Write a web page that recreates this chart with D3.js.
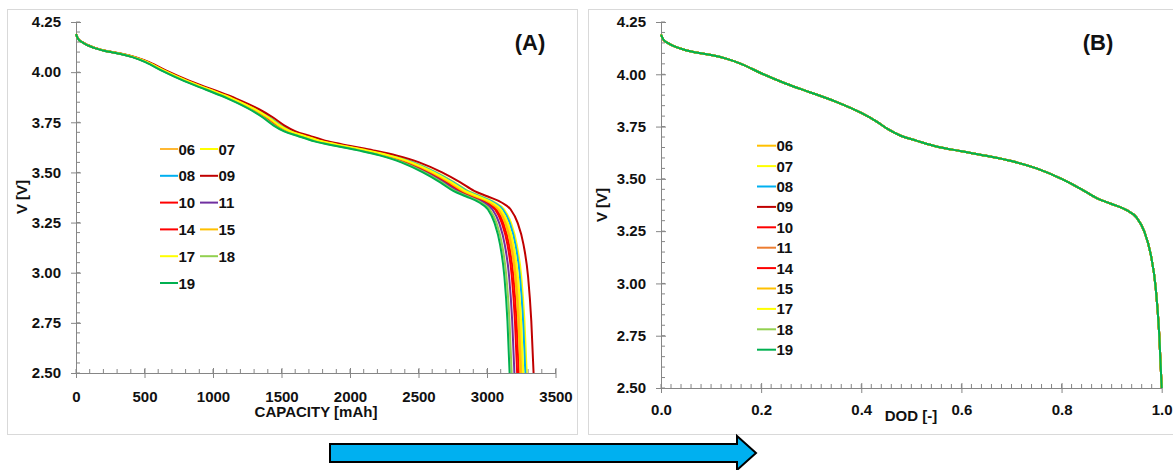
<!DOCTYPE html>
<html>
<head>
<meta charset="utf-8">
<script src="https://cdn.jsdelivr.net/npm/d3@7"></script>
<style>
  html, body { margin: 0; padding: 0; background: #fff; }
  svg { display: block; }
  text { font-family: "Liberation Sans", Arial, sans-serif; font-weight: bold; fill: #111; }
</style>
</head>
<body>
<svg id="chart" width="1173" height="470"></svg>
<script>
// ---------------- DATA ----------------
// cell identifiers (legend order)
const cells = ["06", "07", "08", "09", "10", "11", "14", "15", "17", "18", "19"];
// capacity at 2.50 V cut-off [mAh]
const capacities = [3255, 3290, 3280, 3340, 3220, 3200, 3232, 3245, 3265, 3180, 3165];
// line colours in panel (A)
const colorsA = ["#FFB833", "#FFFF00", "#00B0F0", "#C00000", "#FF0000", "#7030A0", "#FF0000", "#FFC000", "#FFFF00", "#92D050", "#00B050"];
// line colours in panel (B)
const colorsB = ["#FFC000", "#FFFF00", "#00B0F0", "#C00000", "#FF0000", "#ED7D31", "#FF0000", "#FFC000", "#FFFF00", "#92D050", "#00B050"];
// normalised discharge profile: depth of discharge and voltage
const dod = [0, 0.005, 0.015, 0.04, 0.07, 0.10, 0.13, 0.16, 0.20, 0.25, 0.30, 0.35, 0.40, 0.43, 0.455, 0.48, 0.51, 0.55, 0.60, 0.65, 0.70, 0.75, 0.80, 0.84, 0.87, 0.90, 0.93, 0.95, 0.965, 0.978, 0.988, 0.995, 1.0];
const volt = [4.19, 4.165, 4.148, 4.122, 4.104, 4.092, 4.075, 4.05, 4.005, 3.955, 3.912, 3.868, 3.815, 3.775, 3.735, 3.705, 3.683, 3.655, 3.632, 3.61, 3.585, 3.55, 3.50, 3.45, 3.408, 3.38, 3.35, 3.315, 3.25, 3.14, 2.98, 2.76, 2.50];
// axis ticks
const vTicks = [2.50, 2.75, 3.00, 3.25, 3.50, 3.75, 4.00, 4.25];
const capTicks = [0, 500, 1000, 1500, 2000, 2500, 3000, 3500];
const dodTicks = [0.0, 0.2, 0.4, 0.6, 0.8, 1.0];

// ---------------- DRAW ----------------
const svg = d3.select("#chart");
const axisColor = "#868686";

// panel frames
svg.append("rect").attr("x", 7.5).attr("y", 9.5).attr("width", 570).attr("height", 425)
  .attr("fill", "#fff").attr("stroke", "#d9d9d9");
svg.append("rect").attr("x", 588.5).attr("y", 9.5).attr("width", 600).attr("height", 425)
  .attr("fill", "#fff").attr("stroke", "#d9d9d9");

function drawPanel(opt) {
  const g = svg.append("g");
  const x = opt.x, y = opt.y;
  const clipId = "clip" + opt.id;
  svg.append("clipPath").attr("id", clipId).append("rect")
    .attr("x", x.range()[0] - 2).attr("y", y.range()[1] - 2)
    .attr("width", x.range()[1] - x.range()[0] + 4).attr("height", y.range()[0] - y.range()[1] + 4);

  // minor ticks on x (inside/up)
  g.append("g").selectAll("line").data(opt.xMinor).join("line")
    .attr("x1", d => x(d)).attr("x2", d => x(d))
    .attr("y1", y.range()[0]).attr("y2", y.range()[0] - 4)
    .attr("stroke", axisColor).attr("stroke-width", 1);
  // minor ticks on y (inside/right)
  g.append("g").selectAll("line").data(opt.yMinor).join("line")
    .attr("x1", x.range()[0]).attr("x2", x.range()[0] + 4)
    .attr("y1", d => y(d)).attr("y2", d => y(d))
    .attr("stroke", axisColor).attr("stroke-width", 1);

  // x axis
  const xa = g.append("g").attr("transform", `translate(0,${y.range()[0]})`)
    .call(d3.axisBottom(x).tickValues(opt.xTicks).tickFormat(opt.xFormat).tickSizeInner(5).tickSizeOuter(0).tickPadding(opt.xPad));
  xa.selectAll("line").attr("y1", -5);
  xa.selectAll("path, line").attr("stroke", axisColor);
  xa.selectAll("text").attr("font-size", 15).attr("font-family", null).attr("fill", "#111");

  // y axis
  const ya = g.append("g").attr("transform", `translate(${x.range()[0]},0)`)
    .call(d3.axisLeft(y).tickValues(vTicks).tickFormat(d3.format(".2f")).tickSizeInner(5).tickSizeOuter(0).tickPadding(10));
  ya.selectAll("line").attr("x1", 5);
  ya.selectAll("path, line").attr("stroke", axisColor);
  ya.selectAll("text").attr("font-size", 15).attr("font-family", null).attr("fill", "#111");

  // lines
  const lineG = g.append("g").attr("clip-path", `url(#${clipId})`);
  cells.forEach((c, i) => {
    const pts = dod.map((d, k) => [opt.xVal(d, i), volt[k]]);
    const line = d3.line().x(p => x(p[0])).y(p => y(p[1])).curve(d3.curveMonotoneX);
    lineG.append("path").datum(pts).attr("d", line)
      .attr("fill", "none").attr("stroke", opt.colors[i]).attr("stroke-width", 2)
      .attr("stroke-linejoin", "round");
  });

  // axis titles
  g.append("text").attr("x", opt.xTitlePos[0]).attr("y", opt.xTitlePos[1])
    .attr("text-anchor", "middle").attr("dominant-baseline", "central").attr("font-size", 15).text(opt.xTitle);
  g.append("text").attr("transform", `translate(${opt.yTitlePos[0]},${opt.yTitlePos[1]}) rotate(-90)`)
    .attr("text-anchor", "middle").attr("dominant-baseline", "central").attr("font-size", 15).text("V [V]");
  // panel label
  g.append("text").attr("x", opt.labelPos[0]).attr("y", opt.labelPos[1])
    .attr("text-anchor", "middle").attr("dominant-baseline", "central").attr("font-size", 22).text(opt.label);
  return g;
}

// Panel A
const xA = d3.scaleLinear().domain([0, 3500]).range([76, 555.5]);
const yA = d3.scaleLinear().domain([2.5, 4.25]).range([373, 22]);
const gA = drawPanel({
  id: "A", x: xA, y: yA,
  xTicks: capTicks, xFormat: d3.format("d"), xPad: 13,
  xMinor: d3.range(0, 3501, 100), yMinor: d3.range(2.5, 4.2501, 0.05),
  xVal: (d, i) => d * capacities[i], colors: colorsA,
  xTitle: "CAPACITY [mAh]", xTitlePos: [316, 411],
  yTitlePos: [21, 197], label: "(A)", labelPos: [530, 42]
});
// legend A (two columns)
const legA = gA.append("g");
cells.forEach((c, i) => {
  const col = i % 2, row = Math.floor(i / 2);
  const lx = 160 + col * 40, ly = 149 + row * 26.8;
  legA.append("line").attr("x1", lx).attr("x2", lx + 18).attr("y1", ly).attr("y2", ly)
    .attr("stroke", colorsA[i]).attr("stroke-width", 2);
  legA.append("text").attr("x", lx + 18.5).attr("y", ly).attr("dominant-baseline", "central")
    .attr("font-size", 15).text(c);
});

// Panel B
const xB = d3.scaleLinear().domain([0, 1]).range([661, 1161.7]);
const yB = d3.scaleLinear().domain([2.5, 4.25]).range([388, 22]);
const gB = drawPanel({
  id: "B", x: xB, y: yB,
  xTicks: dodTicks, xFormat: d3.format(".1f"), xPad: 11,
  xMinor: d3.range(0, 1.0001, 0.02), yMinor: d3.range(2.5, 4.2501, 0.05),
  xVal: (d, i) => d, colors: colorsB,
  xTitle: "DOD [-]", xTitlePos: [911, 415],
  yTitlePos: [601, 205], label: "(B)", labelPos: [1098, 42]
});
// legend B (single column)
const legB = gB.append("g");
cells.forEach((c, i) => {
  const lx = 757, ly = 145.7 + i * 20.4;
  legB.append("line").attr("x1", lx).attr("x2", lx + 19).attr("y1", ly).attr("y2", ly)
    .attr("stroke", colorsB[i]).attr("stroke-width", 2);
  legB.append("text").attr("x", lx + 19.5).attr("y", ly).attr("dominant-baseline", "central")
    .attr("font-size", 15).text(c);
});

// big arrow
const arrowPts = [[330, 444], [737, 444], [737, 436], [756, 453], [737, 470], [737, 462], [330, 462]];
svg.append("path").attr("d", d3.line()(arrowPts) + "Z")
  .attr("fill", "#00B0F0").attr("stroke", "#000").attr("stroke-width", 2).attr("stroke-linejoin", "miter");
</script>
</body>
</html>
